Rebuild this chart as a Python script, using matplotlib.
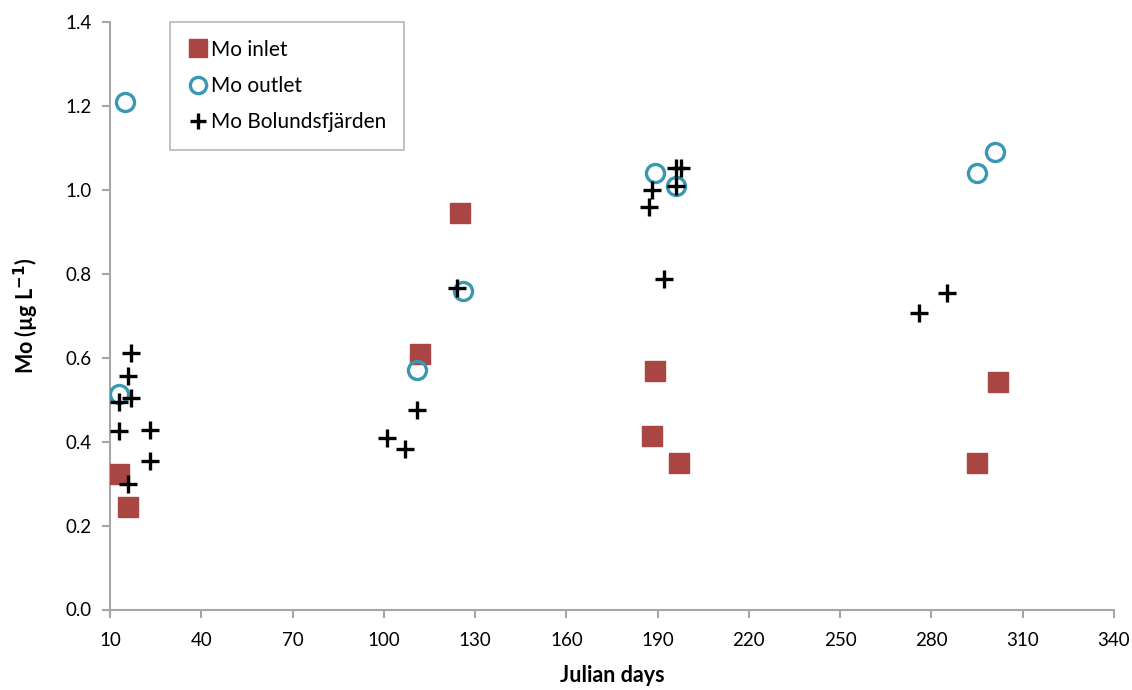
import matplotlib
matplotlib.use("Agg")
import matplotlib.pyplot as plt

# Data
inlet_days = [13, 16, 112, 125, 188, 189, 197, 295, 302]
inlet_mo = [0.323, 0.245, 0.609, 0.945, 0.413, 0.568, 0.349, 0.349, 0.542]

outlet_days = [13, 15, 111, 126, 189, 196, 295, 301]
outlet_mo = [0.514, 1.209, 0.570, 0.759, 1.040, 1.009, 1.039, 1.090]

bol_days = [13, 13, 16, 16, 17, 17, 23, 23, 101, 107, 111, 124, 187, 188, 192, 196, 196, 197.7, 276, 285]
bol_mo = [0.495, 0.425, 0.556, 0.298, 0.611, 0.503, 0.428, 0.354, 0.408, 0.382, 0.475, 0.766,
          0.958, 1.000, 0.787, 1.009, 1.052, 1.052, 0.706, 0.754]

xticks = [10, 40, 70, 100, 130, 160, 190, 220, 250, 280, 310, 340]
yticks = [0.0, 0.2, 0.4, 0.6, 0.8, 1.0, 1.2, 1.4]

plt.rcParams['font.family'] = ['Lato', 'DejaVu Sans']

fig = plt.figure(figsize=(11.32, 6.9), dpi=100)
ax = fig.add_axes([110/1132, 1 - 609.5/690, (1114-110)/1132, (609.5-22)/690])

ax.plot(inlet_days, inlet_mo, linestyle='none', marker='s', markersize=14,
        markerfacecolor='#A94542', markeredgecolor='#A94542', label='Mo inlet', zorder=3)
ax.plot(outlet_days, outlet_mo, linestyle='none', marker='o', markersize=13,
        markerfacecolor='none', markeredgecolor='#3B98B2', markeredgewidth=2.4,
        label='Mo outlet', zorder=4)
ax.plot(bol_days, bol_mo, linestyle='none', marker='+', markersize=13,
        markeredgecolor='black', markeredgewidth=2.4, label='Mo Bolundsfjärden', zorder=5)

ax.set_xlim(10, 340)
ax.set_ylim(0, 1.4)
ax.set_xticks(xticks)
ax.set_xticklabels([str(t) for t in xticks])
ax.set_yticks(yticks)
ax.set_yticklabels([f"{t:.1f}" for t in yticks])

for s in ['top', 'right']:
    ax.spines[s].set_visible(False)
for s in ['left', 'bottom']:
    ax.spines[s].set_color('#A6A6A6')
    ax.spines[s].set_linewidth(1.5)
ax.tick_params(axis='both', colors='#A6A6A6', length=6, width=1.5, direction='out',
               labelcolor='black', labelsize=13.5)
ax.tick_params(axis='x', pad=10)
ax.tick_params(axis='y', pad=7)

ax.set_xlabel('Julian days', fontsize=15.5, fontweight='bold', labelpad=12)
ax.set_ylabel('Mo (µg L$^{\\mathbf{-1}}$)', fontsize=15.5, fontweight='bold', labelpad=18)

leg = ax.legend(loc='upper left', bbox_to_anchor=(170/1132, 1 - 22/690),
                bbox_transform=fig.transFigure, frameon=True, fancybox=False,
                fontsize=15, handletextpad=0.1, handlelength=1.0, borderpad=0.85,
                labelspacing=0.78, borderaxespad=0, markerscale=0.9)
leg.get_frame().set_edgecolor('#A6A6A6')
leg.get_frame().set_linewidth(1.2)

fig.savefig('out.png', dpi=100)
